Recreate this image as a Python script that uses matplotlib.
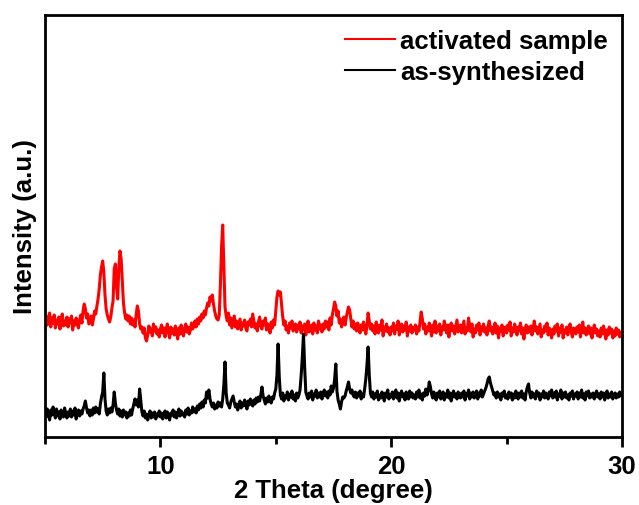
import numpy as np
import matplotlib
matplotlib.use("Agg")
import matplotlib.pyplot as plt
from matplotlib.ticker import MultipleLocator

# 2-theta grid: 5.00 .. 30.00 in 0.05 degree steps (501 points), one row per degree
two_theta_start = 5.0
two_theta_step = 0.05

activated = [
    116, 121, 112, 118, 124, 110, 119, 114, 122, 109, 117, 113, 120, 108, 118, 123, 111, 116, 112, 120,
    110, 118, 114, 121, 107, 116, 112, 119, 113, 109, 117, 122, 114, 126, 133, 128, 119, 123, 113, 117,
    121, 112, 118, 126, 123, 131, 138, 148, 162, 170, 176, 165, 142, 128, 122, 118, 115, 120, 129, 136,
    168, 173, 150, 138, 170, 186, 178, 155, 134, 124, 118, 122, 116, 121, 113, 119, 112, 117, 110, 122,
    131, 126, 113, 108, 110, 104, 109, 99, 96, 102, 111, 105, 108, 101, 113, 106, 110, 103, 107, 100,
    108, 112, 104, 109, 100, 107, 113, 105, 99, 110, 104, 108, 102, 111, 106, 98, 109, 103, 112, 105,
    101, 109, 113, 105, 110, 103, 107, 114, 108, 111, 116, 110, 118, 113, 120, 116, 123, 119, 126, 122,
    129, 134, 131, 140, 136, 142, 133, 126, 121, 118, 117, 122, 152, 190, 212, 170, 130, 121, 116, 124,
    112, 119, 109, 115, 121, 110, 116, 108, 113, 118, 107, 114, 111, 117, 109, 106, 115, 112, 118, 110,
    123, 116, 109, 113, 106, 115, 120, 111, 108, 116, 112, 119, 107, 113, 110, 104, 115, 109, 117, 112,
    126, 140, 146, 142, 145, 133, 120, 112, 116, 107, 111, 104, 114, 109, 116, 106, 110, 113, 105, 112,
    108, 115, 104, 111, 107, 113, 102, 110, 116, 105, 109, 112, 103, 114, 107, 111, 104, 116, 108, 112,
    105, 113, 108, 116, 110, 115, 107, 119, 112, 122, 128, 135, 131, 121, 126, 114, 118, 110, 115, 120,
    112, 119, 125, 130, 127, 118, 110, 116, 108, 113, 106, 114, 109, 104, 112, 107, 115, 110, 103, 111,
    124, 116, 108, 113, 106, 111, 103, 115, 109, 104, 112, 107, 117, 101, 110, 106, 113, 105, 109, 102,
    110, 106, 114, 103, 111, 108, 116, 102, 109, 113, 105, 111, 107, 115, 101, 110, 106, 112, 104, 109,
    107, 112, 103, 110, 106, 115, 125, 118, 108, 113, 103, 110, 106, 114, 109, 101, 112, 105, 116, 104,
    111, 106, 113, 102, 110, 107, 116, 109, 104, 112, 100, 109, 114, 106, 111, 103, 110, 117, 105, 108,
    112, 104, 110, 116, 103, 109, 106, 119, 111, 105, 113, 100, 108, 104, 112, 107, 114, 102, 110, 106,
    113, 105, 109, 102, 111, 116, 106, 110, 103, 108, 114, 104, 111, 99, 109, 106, 112, 101, 108, 110,
    104, 112, 107, 115, 101, 109, 105, 113, 108, 102, 110, 106, 114, 103, 109, 98, 107, 112, 104, 110,
    105, 111, 102, 109, 116, 106, 110, 103, 108, 113, 100, 107, 104, 111, 106, 114, 102, 109, 105, 99,
    108, 103, 111, 106, 113, 101, 109, 105, 112, 99, 107, 104, 110, 102, 108, 113, 105, 100, 109, 106,
    103, 110, 105, 112, 100, 108, 115, 104, 109, 102, 107, 111, 103, 109, 99, 106, 112, 104, 108, 101,
    106, 100, 109, 103, 111, 105, 98, 107, 102, 110, 104, 108, 99, 106, 101, 109, 103, 107, 100, 105,
    104,
]

as_synthesized = [
    26, 20, 28, 23, 17, 27, 22, 30, 24, 19, 28, 21, 25, 18, 27, 23, 20, 29, 24, 19,
    25, 21, 28, 20, 26, 22, 29, 18, 24, 27, 21, 26, 23, 28, 31, 36, 29, 24, 27, 21,
    27, 22, 29, 24, 30, 25, 28, 23, 33, 40, 45, 64, 38, 26, 22, 28, 24, 29, 25, 32,
    45, 34, 27, 23, 28, 21, 26, 20, 27, 22, 25, 19, 24, 21, 27, 22, 28, 33, 38, 32,
    37, 30, 48, 36, 25, 21, 26, 19, 23, 17, 22, 26, 19, 24, 20, 25, 18, 23, 21, 26,
    20, 24, 18, 23, 26, 19, 25, 21, 17, 24, 22, 27, 20, 25, 19, 23, 28, 21, 26, 22,
    24, 20, 27, 23, 29, 22, 26, 24, 30, 25, 28, 24, 31, 27, 33, 29, 35, 30, 37, 34,
    45, 39, 47, 38, 33, 30, 34, 28, 32, 29, 35, 31, 34, 30, 38, 52, 75, 44, 34, 32,
    29, 35, 38, 41, 35, 30, 33, 27, 32, 36, 29, 34, 31, 37, 33, 28, 36, 32, 38, 34,
    31, 37, 33, 39, 35, 40, 36, 42, 50, 41, 37, 33, 39, 35, 41, 36, 34, 40, 38, 44,
    48, 62, 93, 60, 42, 38, 44, 36, 41, 39, 45, 37, 43, 40, 46, 38, 42, 36, 44, 39,
    42, 47, 62, 80, 103, 70, 45, 41, 38, 44, 40, 46, 37, 43, 41, 47, 39, 44, 40, 45,
    38, 43, 47, 41, 45, 39, 46, 42, 51, 45, 49, 58, 73, 46, 37, 33, 28, 35, 40, 39,
    41, 46, 50, 55, 48, 44, 47, 42, 40, 45, 39, 44, 41, 46, 38, 43, 40, 48, 58, 72,
    90, 62, 44, 40, 45, 38, 43, 40, 46, 37, 42, 39, 45, 41, 36, 44, 40, 47, 38, 42,
    40, 45, 38, 43, 47, 39, 44, 36, 42, 46, 40, 43, 37, 45, 41, 38, 46, 40, 44, 39,
    42, 38, 45, 40, 47, 39, 43, 37, 44, 41, 48, 42, 46, 55, 50, 43, 39, 45, 40, 37,
    44, 40, 46, 38, 42, 45, 37, 43, 40, 47, 39, 44, 36, 42, 46, 40, 43, 38, 45, 41,
    39, 44, 40, 46, 37, 43, 41, 47, 38, 44, 40, 45, 39, 42, 46, 38, 44, 41, 47, 40,
    43, 46, 49, 53, 58, 60, 54, 50, 46, 42, 44, 39, 45, 40, 43, 37, 44, 41, 46, 39,
    42, 38, 45, 40, 44, 37, 43, 39, 46, 41, 38, 44, 40, 46, 39, 43, 37, 45, 50, 53,
    44, 39, 45, 40, 43, 38, 46, 41, 44, 37, 43, 40, 46, 39, 44, 42, 38, 45, 41, 47,
    39, 44, 40, 46, 37, 43, 41, 47, 38, 44, 40, 45, 39, 42, 37, 44, 41, 46, 38, 43,
    41, 45, 38, 44, 40, 47, 39, 43, 37, 45, 41, 46, 39, 43, 40, 44, 38, 42, 46, 40,
    43, 38, 45, 40, 44, 37, 42, 46, 39, 43, 40, 45, 38, 42, 44, 39, 43, 40, 45, 41,
    42,
]

series_labels = ["activated sample", "as-synthesized"]
x_ticks = [10, 20, 30]

two_theta = two_theta_start + two_theta_step * np.arange(len(activated))

plt.rcParams['font.family'] = ['Liberation Sans', 'DejaVu Sans']
plt.rcParams['font.weight'] = 'bold'

fs = 18.5
fig = plt.figure(figsize=(6.39, 5.06), dpi=100)
ax = fig.add_axes([0.0704, 0.1344, 0.9030, 0.8340])

ax.plot(two_theta, activated, color='#ff0000', lw=2.2, label=series_labels[0])
ax.plot(two_theta, as_synthesized, color='black', lw=2.2, label=series_labels[1])

ax.set_xlim(5, 30)
ax.set_ylim(0, 422)
ax.set_xticks(x_ticks)
ax.xaxis.set_minor_locator(MultipleLocator(5))
ax.set_yticks([])
ax.tick_params(axis='x', which='major', direction='out', length=7, width=2,
               labelsize=fs, pad=5)
ax.tick_params(axis='x', which='minor', direction='out', length=5, width=2)
for lab in ax.get_xticklabels():
    lab.set_fontweight('bold')
for sp in ax.spines.values():
    sp.set_linewidth(2)

ax.set_xlabel('2 Theta (degree)', fontsize=fs, fontweight='bold', labelpad=0)
ax.set_ylabel('Intensity (a.u.)', fontsize=fs, fontweight='bold', labelpad=6)

leg = ax.legend(loc='upper right', frameon=False, fontsize=fs,
                handlelength=1.95, handletextpad=0.2, labelspacing=0.25,
                borderaxespad=0.15)
for t in leg.get_texts():
    t.set_fontweight('bold')
for h in leg.get_lines():
    h.set_linewidth(1.5)

fig.savefig('out.png', dpi=100)
